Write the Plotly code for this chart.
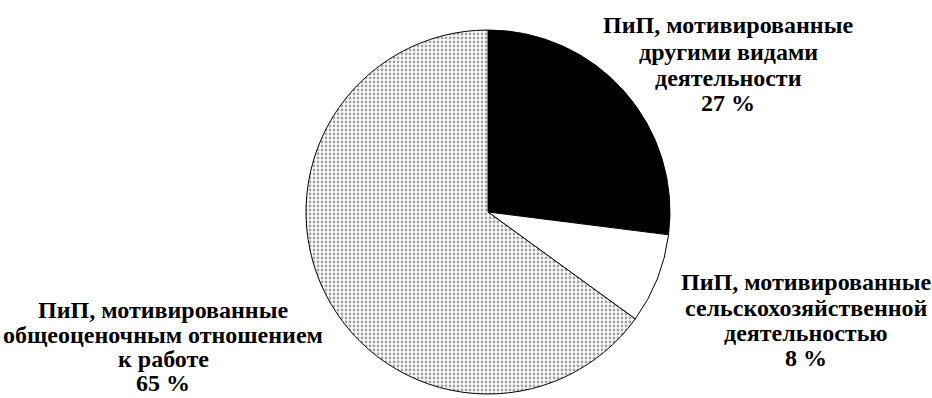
import plotly.graph_objects as go

labels = [
    "ПиП, мотивированные<br>другими видами<br>деятельности<br>27 %",
    "ПиП, мотивированные<br>сельскохозяйственной<br>деятельностью<br>8 %",
    "ПиП, мотивированные<br>общеоценочным отношением<br>к работе<br>65 %",
]
values = [27, 8, 65]
colors = ["#000000", "#ffffff", "#ffffff"]
shapes = ["", "", "."]

W, H = 932, 398
cx, cy, r = 488, 212, 182

fig = go.Figure()
fig.add_trace(go.Pie(
    values=values,
    labels=labels,
    sort=False,
    direction="clockwise",
    rotation=0,
    textinfo="none",
    hoverinfo="label",
    showlegend=False,
    marker=dict(
        colors=colors,
        line=dict(color="#000000", width=1),
        pattern=dict(shape=shapes, fgcolor=["#000000", "#000000", "#444444"],
                     bgcolor=colors, size=4, solidity=0.4, fillmode="overlay"),
    ),
    domain=dict(x=[(cx - r) / W, (cx + r) / W],
                y=[(H - cy - r) / H, (H - cy + r) / H]),
))

font = dict(family="Liberation Serif, Times New Roman, serif", size=24, color="#000000")
# label centre x and centre y of each line (pixels)
label_x = [728, 806, 163]
label_lines_y = [[25, 52, 78, 103], [282, 308, 333, 358], [310, 335, 359, 383]]
for text, x, ys in zip(labels, label_x, label_lines_y):
    for line, y in zip(text.split("<br>"), ys):
        fig.add_annotation(
            text="<b>" + line + "</b>", x=x / W, y=1 - y / H, xref="paper", yref="paper",
            xanchor="center", yanchor="middle", showarrow=False, align="center", font=font,
        )

fig.update_layout(
    width=W, height=H, margin=dict(l=0, r=0, t=0, b=0),
    paper_bgcolor="white", plot_bgcolor="white",
)
fig.write_html("out.html")
